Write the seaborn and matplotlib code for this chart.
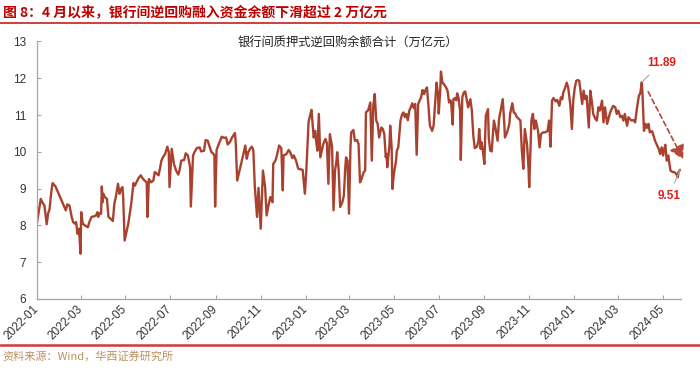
import matplotlib
matplotlib.use("Agg")
import matplotlib.pyplot as plt
import matplotlib.dates as mdates
from matplotlib.lines import Line2D
import pandas as pd
import seaborn as sns

# observation dates (MM-DD) and balances (万亿元), one line per month
days_2022 = [
    "01-01", "01-06", "01-08", "01-11", "01-14", "01-16", "01-18", "01-20", "01-22", "01-26",
    "02-09", "02-11", "02-14", "02-17", "02-19", "02-21", "02-23", "02-25", "02-27",
    "03-01", "03-02", "03-04", "03-07", "03-11", "03-13", "03-16", "03-20", "03-22", "03-24", "03-25", "03-27", "03-29", "03-30", "03-31",
    "04-01", "04-03", "04-06", "04-08", "04-11", "04-14", "04-16", "04-18", "04-21", "04-23", "04-25", "04-27", "04-28", "04-30",
    "05-05", "05-09", "05-12", "05-14", "05-16", "05-19", "05-22", "05-24", "05-27", "05-30", "05-31",
    "06-02", "06-05", "06-08", "06-10", "06-13", "06-15", "06-17", "06-19", "06-21", "06-24", "06-27", "06-29", "06-30",
    "07-03", "07-06", "07-09", "07-12", "07-14", "07-16", "07-20", "07-22", "07-25", "07-28", "07-29",
    "08-01", "08-03", "08-06", "08-10", "08-12", "08-16", "08-18", "08-21", "08-23", "08-26", "08-28", "08-30", "08-31",
    "09-02", "09-05", "09-09", "09-12", "09-15", "09-17", "09-20", "09-23", "09-27", "09-28", "09-30",
    "10-08", "10-11", "10-13", "10-15", "10-18", "10-20", "10-22", "10-24", "10-27", "10-29",
    "11-01", "11-04", "11-07", "11-09", "11-12", "11-14", "11-17", "11-18", "11-21", "11-23", "11-26", "11-29",
    "12-01", "12-02", "12-06", "12-09", "12-11", "12-14", "12-16", "12-19", "12-22", "12-26", "12-28", "12-31",
]
values_2022 = [
    8.09, 8.72, 8.63, 8.54, 8.03, 8.32, 8.45, 8.86, 9.15, 9.06,
    8.41, 8.57, 8.54, 8.23, 8.09, 8.05, 8.09, 7.77, 7.91,
    7.23, 8.36, 8.05, 8.00, 7.95, 8.09, 8.23, 8.25, 8.27, 8.36, 8.23, 8.33, 8.32, 9.06, 8.63,
    8.86, 8.77, 8.72, 8.23, 8.18, 8.12, 8.59, 8.77, 9.13, 8.86, 8.99, 9.04, 8.77, 7.59,
    8.05, 8.59, 9.15, 9.08, 9.17, 9.29, 9.36, 9.29, 9.22, 9.17, 8.23,
    9.26, 9.17, 9.22, 9.45, 9.40, 9.36, 9.54, 9.76, 9.85, 9.94, 10.14, 9.99, 9.04,
    10.08, 9.67, 9.49, 9.38, 9.54, 9.76, 9.78, 9.96, 9.90, 9.58, 8.51,
    9.90, 9.99, 10.10, 10.12, 10.01, 10.03, 10.32, 10.30, 10.17, 9.99, 9.96, 9.90, 8.51,
    10.05, 10.21, 10.41, 10.38, 10.39, 10.20, 10.26, 10.39, 10.51, 10.26, 9.22,
    9.90, 10.17, 9.81, 9.99, 10.10, 10.14, 10.03, 9.04, 8.23, 9.02,
    7.91, 9.49, 9.04, 8.27, 8.59, 8.77, 8.63, 9.67, 9.76, 9.90, 10.17, 10.10,
    8.95, 9.90, 9.94, 10.05, 9.99, 9.83, 9.90, 9.76, 9.54, 9.52, 9.51, 8.86,
]

days_2023 = [
    "01-02", "01-05", "01-07", "01-09", "01-12", "01-14", "01-15", "01-17", "01-19", "01-21", "01-23", "01-25", "01-28", "01-30",
    "02-01", "02-03", "02-06", "02-08", "02-10", "02-12", "02-13", "02-15", "02-17", "02-20", "02-22", "02-24", "02-25", "02-27",
    "03-01", "03-03", "03-04", "03-07", "03-09", "03-12", "03-14", "03-16", "03-18", "03-21", "03-23", "03-24", "03-27", "03-30",
    "04-01", "04-03", "04-05", "04-07", "04-09", "04-11", "04-14", "04-16", "04-18", "04-20", "04-21", "04-22", "04-25", "04-26", "04-28", "04-29",
    "05-01", "05-04", "05-05", "05-07", "05-10", "05-12", "05-14", "05-16", "05-18", "05-20", "05-22", "05-24", "05-26", "05-28", "05-30",
    "06-01", "06-03", "06-05", "06-07", "06-09", "06-11", "06-13", "06-15", "06-17", "06-19", "06-22", "06-24", "06-26", "06-28", "06-30",
    "07-01", "07-03", "07-04", "07-06", "07-08", "07-11", "07-13", "07-15", "07-17", "07-18", "07-20", "07-21", "07-23", "07-25", "07-26", "07-28", "07-30", "07-31",
    "08-02", "08-04", "08-06", "08-08", "08-10", "08-13", "08-15", "08-17", "08-19", "08-22", "08-24", "08-25", "08-27", "08-28", "08-30",
    "09-01", "09-03", "09-06", "09-07", "09-09", "09-11", "09-14", "09-16", "09-19", "09-21", "09-24", "09-26", "09-28", "09-29",
    "10-02", "10-05", "10-06", "10-09", "10-11", "10-13", "10-15", "10-20", "10-22", "10-24", "10-26", "10-29", "10-31",
    "11-01", "11-04", "11-06", "11-08", "11-10", "11-13", "11-15", "11-17", "11-20", "11-23", "11-26", "11-28", "11-30",
    "12-02", "12-04", "12-07", "12-09", "12-12", "12-14", "12-16", "12-17", "12-20", "12-22", "12-24", "12-27", "12-29", "12-31",
]
values_2023 = [
    9.49, 10.80, 10.98, 11.14, 10.39, 10.57, 10.35, 10.03, 11.03, 9.85, 10.03, 10.21, 10.35, 10.23,
    9.13, 10.48, 10.14, 8.41, 9.49, 9.76, 9.99, 9.49, 8.50, 8.63, 8.81, 9.58, 9.85, 9.76,
    8.32, 10.12, 10.53, 10.59, 10.30, 10.32, 10.21, 9.17, 9.26, 9.45, 9.49, 11.07, 11.13, 11.34,
    9.76, 11.25, 11.57, 10.85, 10.76, 10.39, 10.66, 10.62, 10.48, 9.85, 9.94, 9.58, 10.17, 10.71, 10.12, 8.99,
    9.40, 9.76, 10.03, 10.12, 10.85, 11.01, 11.07, 10.94, 11.03, 10.86, 11.12, 11.21, 11.32, 11.19, 11.30,
    9.92, 11.30, 11.39, 11.48, 11.68, 11.57, 11.68, 11.75, 11.25, 10.71, 10.57, 10.71, 11.30, 11.88, 11.57,
    11.04, 11.66, 12.18, 11.88, 11.84, 11.75, 11.66, 11.34, 11.40, 11.30, 10.74, 11.43, 11.46, 11.40, 11.59, 11.46, 11.12, 9.78,
    11.48, 11.61, 11.64, 11.43, 11.21, 11.43, 11.12, 10.44, 10.10, 10.14, 10.30, 10.62, 10.08, 10.26, 10.03,
    9.67, 10.98, 11.16, 10.39, 10.03, 10.01, 10.85, 10.66, 10.30, 10.89, 11.21, 11.43, 10.80, 10.39,
    10.53, 10.76, 11.03, 11.32, 11.07, 11.04, 10.95, 10.85, 10.03, 9.54, 10.62, 10.21, 9.58,
    9.04, 10.85, 11.03, 10.62, 10.85, 10.57, 10.12, 10.48, 10.53, 10.53, 10.57, 10.85, 10.14,
    11.39, 11.46, 11.37, 11.41, 11.25, 11.48, 11.43, 11.59, 11.75, 11.88, 11.75, 11.25, 10.62, 11.43,
]

days_2024 = [
    "01-02", "01-04", "01-06", "01-08", "01-10", "01-12", "01-14", "01-16", "01-18", "01-21", "01-23", "01-25", "01-27", "01-30",
    "02-01", "02-03", "02-05", "02-08", "02-10", "02-12", "02-15", "02-19", "02-23", "02-26", "02-28",
    "03-01", "03-04", "03-06", "03-08", "03-10", "03-13", "03-15", "03-17", "03-19", "03-22", "03-24", "03-26", "03-29", "03-31",
    "04-02", "04-03", "04-05", "04-07", "04-09", "04-11", "04-13", "04-16", "04-18", "04-20", "04-22", "04-25", "04-27", "04-29",
    "05-01", "05-02", "05-04", "05-06", "05-08", "05-10", "05-11", "05-14", "05-16", "05-19", "05-21", "05-22", "05-24",
]
values_2024 = [
    11.75, 11.93, 11.95, 11.93, 11.61, 11.30, 11.66, 11.43, 11.52, 10.66, 11.66, 11.39, 11.03, 10.89,
    10.85, 11.21, 11.12, 11.39, 10.80, 11.21, 10.76, 11.07, 11.25, 11.21, 11.03,
    11.12, 10.94, 10.98, 10.85, 11.03, 10.71, 10.94, 10.89, 10.85, 10.86, 10.80, 11.12, 11.52, 11.59,
    11.89, 11.57, 10.57, 10.76, 10.65, 10.76, 10.53, 10.56, 10.44, 10.30, 10.21, 10.08, 9.94, 10.12,
    9.90, 10.03, 10.19, 9.76, 9.90, 9.63, 9.49, 9.45, 9.45, 9.40, 9.31, 9.45, 9.51,
]

peak_date = "2024-04-02"
y_ticks = [6, 7, 8, 9, 10, 11, 12, 13]

title = "图 8：4 月以来，银行间逆回购融入资金余额下滑超过 2 万亿元"
chart_title = "银行间质押式逆回购余额合计（万亿元）"
source = "资料来源：Wind，华西证券研究所"

LINE = "#a9412f"
RED = "#c00000"
LABEL_RED = "#e0201b"
GREY = "#a6a6a6"

dates = ([f"2022-{d}" for d in days_2022] + [f"2023-{d}" for d in days_2023]
         + [f"2024-{d}" for d in days_2024])
df = pd.DataFrame({"date": pd.to_datetime(dates),
                   "balance": values_2022 + values_2023 + values_2024})

sns.set_theme(style="white")
plt.rcParams["font.family"] = ["Liberation Sans", "Noto Sans CJK SC"]

fig = plt.figure(figsize=(7, 3.7), dpi=100)
ax = fig.add_axes([0.053, 0.192, 0.9195, 0.696])
sns.lineplot(data=df, x="date", y="balance", ax=ax, color=LINE, linewidth=1.7)

ax.set_xlim(pd.Timestamp("2022-01-01"), pd.Timestamp("2024-05-25"))
ax.set_ylim(6, 13)
ax.set_yticks(y_ticks)
ax.xaxis.set_major_locator(mdates.MonthLocator(bymonth=[1, 3, 5, 7, 9, 11]))
ax.xaxis.set_major_formatter(mdates.DateFormatter("%Y-%m"))
ax.set_xlabel("")
ax.set_ylabel("")
for s in ["top", "right"]:
    ax.spines[s].set_visible(False)
for s in ["left", "bottom"]:
    ax.spines[s].set_color(GREY)
    ax.spines[s].set_linewidth(0.9)
ax.tick_params(axis="both", direction="in", length=3, width=0.8, color=GREY,
               labelsize=8.5, labelcolor="#333333", bottom=True, left=True)
ax.tick_params(axis="y", pad=8)
ax.tick_params(axis="x", pad=6)
plt.setp(ax.get_xticklabels(), rotation=45, ha="right", va="center",
         rotation_mode="anchor")

# labels for the April peak and the latest value
peak_val = df.loc[df["date"] == peak_date, "balance"].iloc[0]
last_date = df["date"].iloc[-1]
last_val = df["balance"].iloc[-1]
ax.annotate(f"{peak_val:.2f}", xy=(pd.Timestamp(peak_date), peak_val),
            xytext=(14, 14), textcoords="offset points", ha="center", va="center",
            color=LABEL_RED, fontsize=8.5, fontweight="bold",
            arrowprops=dict(arrowstyle="-", color=GREY, lw=0.8, shrinkA=3, shrinkB=0))
ax.annotate(f"{last_val:.2f}", xy=(last_date, last_val),
            xytext=(-8, -19), textcoords="offset points", ha="center", va="center",
            color=LABEL_RED, fontsize=8.5, fontweight="bold",
            arrowprops=dict(arrowstyle="-", color=GREY, lw=0.8, shrinkA=3, shrinkB=0),
            annotation_clip=False)

# dashed trend arrow
ax.annotate("", xy=(last_date + pd.Timedelta(days=6), last_val + 0.22),
            xytext=(pd.Timestamp(peak_date) + pd.Timedelta(days=7), peak_val - 0.19),
            arrowprops=dict(arrowstyle="-|>,head_length=0.7,head_width=0.4",
                            linestyle=(0, (3, 2)), color="#b5473a",
                            lw=1.2, mutation_scale=12),
            annotation_clip=False)

fig.text(0.004, 0.967, title, color=RED, fontsize=10, fontweight="bold",
         family=["Noto Sans CJK SC"], ha="left", va="center")
fig.add_artist(Line2D([0, 1], [0.939, 0.939], color="#c81e1e", lw=1.2))
fig.text(0.497, 0.886, chart_title, fontsize=8.8, color="#222222",
         family=["Noto Sans CJK SC"], ha="center", va="center")
fig.add_artist(Line2D([0, 1], [0.0676, 0.0676], color="#d03a3a", lw=1.8))
fig.text(0.004, 0.038, source, color="#b8925f", fontsize=8,
         family=["Noto Sans CJK SC"], ha="left", va="center")

fig.savefig("out.png", dpi=100)
